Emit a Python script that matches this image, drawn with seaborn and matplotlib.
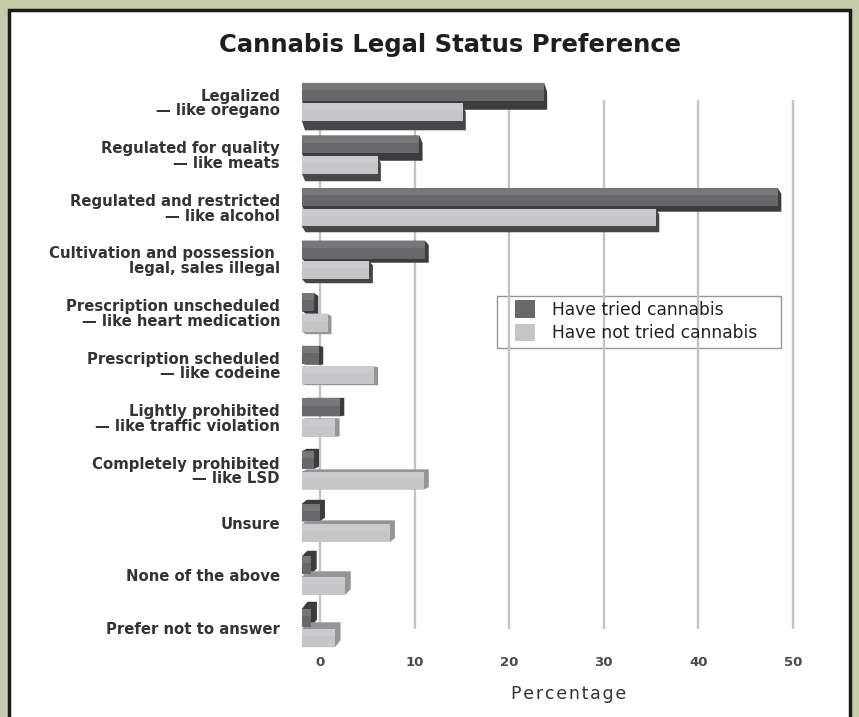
import matplotlib
matplotlib.use("Agg")
import matplotlib.pyplot as plt
import matplotlib.transforms as mtransforms
from matplotlib.patches import Polygon, Rectangle, Patch
import seaborn as sns
import pandas as pd

# data (percent)
categories = [
    "Legalized\n— like oregano",
    "Regulated for quality\n— like meats",
    "Regulated and restricted\n— like alcohol",
    "Cultivation and possession \nlegal, sales illegal",
    "Prescription unscheduled\n— like heart medication",
    "Prescription scheduled\n— like codeine",
    "Lightly prohibited\n— like traffic violation",
    "Completely prohibited\n— like LSD",
    "Unsure",
    "None of the above",
    "Prefer not to answer",
]
tried = [25.6, 12.4, 50.3, 13.0, 1.3, 1.8, 4.0, 1.3, 1.9, 1.0, 1.0]
not_tried = [17.0, 8.0, 37.4, 7.1, 2.7, 7.6, 3.5, 12.9, 9.3, 4.6, 3.5]
groups = ["Have tried cannabis", "Have not tried cannabis"]
xticks = [0, 10, 20, 30, 40, 50]

c_tried = "#68686b"
c_not = "#c6c6c8"

df = pd.DataFrame({
    "category": categories * 2,
    "value": tried + not_tried,
    "group": [groups[0]] * len(categories) + [groups[1]] * len(categories),
})

sns.set_style("white")
plt.rcParams["font.family"] = ["DejaVu Sans"]

fig = plt.figure(figsize=(8.59, 7.17), dpi=100, facecolor="#c5cbab")
# white card with dark border, behind everything
card = Rectangle((9 / 859, -0.1), 841 / 859, 1.1 - 10 / 717, transform=fig.transFigure,
                 fc="white", ec="#1c1c1c", lw=2.5, zorder=-10)
fig.add_artist(card)
# legend box (entries are placed inside it below)
fig.add_artist(Rectangle((497 / 859, 1 - 348 / 717), 284 / 859, 52 / 717,
                         transform=fig.transFigure, fc="white", ec="#969696", lw=1.0, zorder=-5))

ax = fig.add_axes([300 / 859, 1 - 629 / 717, 500 / 859, 529 / 717])
ax.set_facecolor("none")
ax.set_zorder(1)

sns.barplot(data=df, x="value", y="category", hue="group", palette=[c_tried, c_not],
            orient="h", width=0.78, gap=0.13, saturation=1, legend=False, ax=ax, zorder=3)

ax.set_xlim(-2.11, 50.74)
ax.set_ylim(10.02, -0.04)
ax.set_xticks(xticks)
ax.grid(axis="x", color="#c4c4c4", lw=1.7)
ax.grid(axis="y", visible=False)
ax.set_axisbelow(True)
for s in ax.spines.values():
    s.set_visible(False)

# fake 3d: front faces pushed left (closer to viewer), depth faces behind
shift = -18
n = len(categories)
front_tr = mtransforms.offset_copy(ax.transData, fig=fig, x=shift, y=0, units="dots")
for bar in list(ax.patches):
    x0, y0 = bar.get_x(), bar.get_y()
    x1, y1 = x0 + bar.get_width(), y0 + bar.get_height()
    yc = (y0 + y1) / 2
    row = int(round(yc))
    is_tried = yc < row
    (L, B), (R, T) = ax.transData.transform([[x0, max(y0, y1)], [x1, min(y0, y1)]])
    L += shift
    R += shift
    dx = 3 + 2.5 * row / (n - 1)
    dy = -9 + 16 * row / (n - 1)
    if dy < 0:
        pts = [(L, T), (R, T), (R + dx, T + dy), (R + dx, B + dy), (L + dx, B + dy), (L, B)]
    else:
        pts = [(L, B), (L, T), (L + dx, T + dy), (R + dx, T + dy), (R + dx, B + dy), (R, B)]
    if is_tried:
        side = "#3c3c3e"
    else:
        side = "#47474a" if row < 4 else "#959597"
    ax.add_patch(Polygon(pts, closed=True, fc=side, ec="none", zorder=2.5,
                         transform=mtransforms.IdentityTransform(), clip_on=False))
    bar.set_transform(front_tr)
    bar.set_clip_on(False)
    bar.set_edgecolor("none")
    # soft highlight on the upper part of the front face
    top = min(y0, y1)
    ax.add_patch(Rectangle((x0, top), x1 - x0, 0.4 * abs(y1 - y0), fc="white", ec="none",
                           alpha=0.1, transform=front_tr, zorder=3.2, clip_on=False))

ax.tick_params(axis="y", length=0, pad=14.4, labelsize=10.7, labelcolor="#333333")
ax.tick_params(axis="x", length=0, pad=19.5, labelsize=9.5, labelcolor="#4a4a4a")
for t in ax.get_yticklabels():
    t.set_fontweight("bold")
    t.set_linespacing(0.98)
for t in ax.get_xticklabels():
    t.set_fontweight("bold")
ax.set_ylabel("")
ax.set_xlabel("\u200a".join("Percentage"), fontsize=12.5, color="#333333")
ax.xaxis.set_label_coords(0.538, -0.106)

handles = [Patch(fc=c_tried, ec="none"), Patch(fc=c_not, ec="none")]
leg = ax.legend(handles, groups, loc="upper left", bbox_to_anchor=(515 / 859, 1 - 300 / 717),
                bbox_transform=fig.transFigure, fontsize=12.3, frameon=False,
                handlelength=1.15, handleheight=1.2, handletextpad=1.0,
                labelspacing=0.3, borderpad=0, borderaxespad=0)
for t in leg.get_texts():
    t.set_color("#222222")
leg.set_zorder(10)

fig.text(450 / 859, 1 - 45 / 717, "Cannabis Legal Status Preference", ha="center", va="center",
         fontsize=17.5, fontweight="bold", color="#1e1e1e")

fig.savefig("out.png", dpi=100, facecolor=fig.get_facecolor())
